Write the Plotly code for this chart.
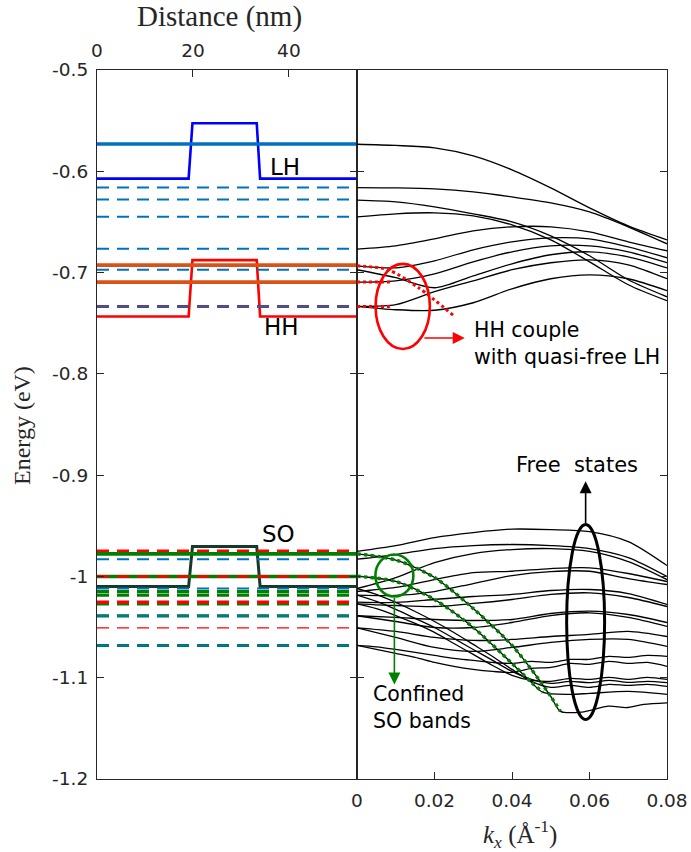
import plotly.graph_objects as go

# ---------------- left panel: band-edge profiles vs distance (nm) ----------------
Z_PROFILE = [0, 19.1, 19.9, 33.3, 34.0, 54.2]
LH_EDGE = [-0.6072, -0.6072, -0.5526, -0.5526, -0.6072, -0.6072]
HH_EDGE = [-0.7433, -0.7433, -0.6877, -0.6877, -0.7433, -0.7433]
SO_EDGE = [-1.0100, -1.0100, -0.9705, -0.9705, -1.0100, -1.0100]
Z_SPAN = [0, 54.2]

# subband energies at k = 0 (eV)
LH_SOLID = [-0.5730]
HH_SOLID = [-0.6926, -0.7094]
SO_SOLID = [-0.9777, -1.0000]
BLUE_DASHED = [-0.6161, -0.6279, -0.6450, -0.6766, -0.6973, -0.7335,
               -0.9830, -1.0119, -1.0389, -1.0682]
RED_DASHED = [-0.7335, -0.9751, -1.0254]
RED_DASHED_TOP = [-1.0000]
RED_DASHED_THIN = [-1.0507]
GREEN_DASHED = [-1.0149, -1.0185, -1.0270, -1.0389, -1.0682]

# ---------------- right panel: dispersion E(kx) ----------------
K_GRID = [0.00, 0.01, 0.02, 0.03, 0.04, 0.05, 0.06, 0.07, 0.08]
K_FINE = [0.000, 0.005, 0.010, 0.015, 0.020, 0.025, 0.030, 0.035, 0.040,
          0.045, 0.050, 0.055, 0.060, 0.065, 0.070, 0.075, 0.080]

UPPER_BANDS = [
    [-0.5733, -0.5745, -0.5769, -0.5848, -0.5986, -0.6164, -0.6361, -0.6539, -0.6677],
    [-0.6161, -0.6164, -0.6174, -0.6203, -0.6253, -0.6312, -0.6401, -0.6548, -0.6716],
    [-0.6285, -0.6302, -0.6351, -0.6420, -0.6499, -0.6637, -0.6834, -0.7071, -0.7239],
    [-0.6450, -0.6420, -0.6410, -0.6440, -0.6529, -0.6677, -0.6894, -0.7120, -0.7278],
    [-0.6768, -0.6736, -0.6667, -0.6588, -0.6548, -0.6548, -0.6598, -0.6696, -0.6785],
    [-0.6933, -0.6953, -0.6884, -0.6775, -0.6696, -0.6657, -0.6667, -0.6746, -0.6854],
    [-0.7094, -0.7081, -0.7012, -0.6894, -0.6795, -0.6736, -0.6736, -0.6795, -0.6903],
    [-0.6972, -0.7051, -0.7150, -0.7032, -0.6913, -0.6824, -0.6795, -0.6844, -0.6953],
    [-0.7334, -0.7317, -0.7189, -0.7081, -0.6972, -0.6903, -0.6874, -0.6923, -0.7061],
    [-0.7334, -0.7367, -0.7372, -0.7298, -0.7160, -0.7061, -0.7022, -0.7061, -0.7179],
]

LOWER_BANDS = [
    [-0.9752, -0.9695, -0.9616, -0.9567, -0.9533, -0.9538, -0.9557, -0.9656, -0.9893],
    [-0.9830, -0.9784, -0.9725, -0.9695, -0.9685, -0.9695, -0.9725, -0.9814, -1.0001],
    [-1.0119, -1.0011, -0.9863, -0.9774, -0.9735, -0.9725, -0.9752, -0.9853, -1.0031],
    [-1.0149, -1.0109, -1.0031, -0.9962, -0.9949, -0.9922, -0.9915, -0.9971, -1.0050],
    [-1.0185, -1.0188, -1.0149, -1.0070, -0.9991, -0.9952, -0.9949, -1.0021, -1.0080],
    [-1.0254, -1.0257, -1.0228, -1.0198, -1.0178, -1.0139, -1.0129, -1.0169, -1.0277],
    [-1.0270, -1.0287, -1.0297, -1.0267, -1.0228, -1.0178, -1.0162, -1.0208, -1.0297],
    [-1.0388, -1.0405, -1.0425, -1.0435, -1.0425, -1.0366, -1.0343, -1.0376, -1.0455],
    [-1.0388, -1.0445, -1.0504, -1.0504, -1.0455, -1.0386, -1.0359, -1.0405, -1.0494],
    [-1.0507, -1.0543, -1.0602, -1.0632, -1.0622, -1.0593, -1.0573, -1.0543, -1.0593],
    [-1.0507, -1.0602, -1.0701, -1.0740, -1.0701, -1.0652, -1.0622, -1.0622, -1.0691],
]

# deeper free states, sampled more finely to keep their ripples
LOWER_BANDS_FINE = [
    [-1.0681, -1.0696, -1.0721, -1.0750, -1.0780, -1.0810, -1.0829, -1.0849, -1.0859,
     -1.0839, -1.0849, -1.0819, -1.0819, -1.0790, -1.0800, -1.0780, -1.0790],
    [-1.0681, -1.0721, -1.0760, -1.0800, -1.0849, -1.0888, -1.0918, -1.0938, -1.0948,
     -1.0908, -1.0898, -1.0859, -1.0869, -1.0839, -1.0859, -1.0849, -1.0888],
    [-1.0270, -1.0317, -1.0386, -1.0464, -1.0553, -1.0662, -1.0770, -1.0879, -1.0977,
     -1.1026, -1.1036, -1.1007, -1.1017, -1.0997, -1.1017, -1.0997, -1.1017],
    [-1.0185, -1.0247, -1.0326, -1.0415, -1.0504, -1.0612, -1.0721, -1.0829, -1.0938,
     -1.1017, -1.1056, -1.1036, -1.1049, -1.1026, -1.1046, -1.1036, -1.1049],
    [-1.0119, -1.0178, -1.0257, -1.0346, -1.0445, -1.0553, -1.0671, -1.0790, -1.0918,
     -1.1036, -1.1095, -1.1076, -1.1095, -1.1066, -1.1076, -1.1066, -1.1086],
]

# confined SO bands (dotted part covers the first N points)
K_SO_UP = [0.0, 0.01, 0.02, 0.03, 0.04, 0.045, 0.05, 0.0525, 0.058, 0.065, 0.0695,
           0.074, 0.08]
E_SO_UP = [-0.9777, -0.9838, -1.0011, -1.0317, -1.0681, -1.0918, -1.1184, -1.1332,
           -1.1339, -1.1280, -1.1296, -1.1263, -1.1248]
N_SO_UP_DOT = 8
K_SO_LO = [0.0, 0.01, 0.02, 0.03, 0.04, 0.045, 0.048, 0.055, 0.06, 0.07, 0.08]
E_SO_LO = [-0.9998, -1.0050, -1.0228, -1.0504, -1.0859, -1.1046, -1.1145, -1.1164,
           -1.1155, -1.1135, -1.1164]
N_SO_LO_DOT = 7

# HH state coupling to the quasi-free LH continuum
K_HH_DOT = [0.0, 0.008, 0.016, 0.0252]
E_HH_DOT = [-0.6933, -0.6972, -0.7153, -0.7433]
K_HH_FLAT = [0.0, 0.0085]
E_HH_FLAT = [-0.7094, -0.7334]

Y_TICKS = [-1.2, -1.1, -1.0, -0.9, -0.8, -0.7, -0.6, -0.5]
Y_TICK_TEXT = ["-1.2", "-1.1", "-1", "-0.9", "-0.8", "-0.7", "-0.6", "-0.5"]
Z_TICKS = [0, 20, 40]
K_TICKS = [0, 0.02, 0.04, 0.06, 0.08]
K_TICK_TEXT = ["0", "0.02", "0.04", "0.06", "0.08"]

BLUE = "#0072BD"
ORANGE = "#D95319"
GREEN = "#008000"
RED = "#FF0000"
AXIS = "#262626"
DASH = "12px,8px"

fig = go.Figure()


def left_line(x, y, color, width, dash=None):
    fig.add_trace(go.Scatter(x=x, y=y, mode="lines", xaxis="x", yaxis="y",
                             line=dict(color=color, width=width, dash=dash),
                             hoverinfo="skip", showlegend=False))


def right_line(x, y, color, width, dash=None, shape="spline"):
    fig.add_trace(go.Scatter(x=x, y=y, mode="lines", xaxis="x2", yaxis="y2",
                             line=dict(color=color, width=width, dash=dash,
                                       shape=shape, smoothing=0.8),
                             hoverinfo="skip", showlegend=False))


# profiles
left_line(Z_PROFILE, LH_EDGE, "#0000FF", 2.6)
left_line(Z_PROFILE, HH_EDGE, RED, 2.6)
left_line(Z_PROFILE, SO_EDGE, "#163A2A", 3.0)

# levels
for e in GREEN_DASHED:
    left_line(Z_SPAN, [e, e], GREEN, 3.2, DASH)
for e in RED_DASHED:
    left_line(Z_SPAN, [e, e], RED, 3.2, DASH)
for e in RED_DASHED_THIN:
    left_line(Z_SPAN, [e, e], RED, 1.3, DASH)
for e in BLUE_DASHED:
    left_line(Z_SPAN, [e, e], BLUE, 2.0, DASH)
for e in LH_SOLID:
    left_line(Z_SPAN, [e, e], BLUE, 3.6)
for e in HH_SOLID:
    left_line(Z_SPAN, [e, e], ORANGE, 3.6)
for e in SO_SOLID:
    left_line(Z_SPAN, [e, e], GREEN, 3.6)
for e in RED_DASHED_TOP:
    left_line(Z_SPAN, [e, e], RED, 2.6, DASH)

# dispersion
for band in UPPER_BANDS + LOWER_BANDS:
    right_line(K_GRID, band, "black", 1.3)
for band in LOWER_BANDS_FINE:
    right_line(K_FINE, band, "black", 1.3)
right_line(K_SO_UP, E_SO_UP, "black", 1.3)
right_line(K_SO_LO, E_SO_LO, "black", 1.3)
right_line(K_SO_UP[:N_SO_UP_DOT], E_SO_UP[:N_SO_UP_DOT], GREEN, 3.4, "dot")
right_line(K_SO_LO[:N_SO_LO_DOT], E_SO_LO[:N_SO_LO_DOT], GREEN, 3.4, "dot")
right_line(K_HH_DOT, E_HH_DOT, RED, 3.0, "dot")
for e in E_HH_FLAT:
    right_line(K_HH_FLAT, [e, e], RED, 3.0, "dot", "linear")

SANS = "DejaVu Sans"
SERIF = "Liberation Serif"

shapes = [
    dict(type="circle", xref="x2", yref="y2", x0=0.0048, x1=0.0188,
         y0=-0.7754, y1=-0.6914, line=dict(color=RED, width=2.6)),
    dict(type="circle", xref="x2", yref="y2", x0=0.00475, x1=0.01455,
         y0=-1.0198, y1=-0.9784, line=dict(color=GREEN, width=2.6)),
    dict(type="circle", xref="x2", yref="y2", x0=0.0541, x1=0.0639,
         y0=-1.1412, y1=-0.9488, line=dict(color="black", width=3)),
]


def arrow(x0, y0, x1, y1, color):
    return dict(x=x1, y=y1, ax=x0, ay=y0, xref="x2", yref="y2", axref="x2",
                ayref="y2", showarrow=True, arrowhead=2, arrowsize=1.5,
                arrowwidth=1.6, arrowcolor=color, text="")


def label(x, y, text, size, xref="x2", yref="y2", xanchor="center", family=SANS,
          color="black", angle=0):
    return dict(x=x, y=y, xref=xref, yref=yref, xanchor=xanchor, yanchor="middle",
                align="left", showarrow=False, text=text, textangle=angle,
                font=dict(family=family, size=size, color=color))


annotations = [
    arrow(0.0170, -0.7646, 0.0278, -0.7646, RED),
    arrow(0.00965, -1.0198, 0.00965, -1.1066, GREEN),
    arrow(0.0590, -0.9488, 0.0590, -0.9061, "black"),
    label(0.0296, -0.7702, "HH couple<br>with quasi-free LH", 20.5, xanchor="left"),
    label(0.0568, -0.8904, "Free\u00a0 states", 21),
    label(0.0036, -1.1298, "Confined<br>SO bands", 20.5, xanchor="left"),
    label(39.2, -0.5957, "LH", 23, "x", "y"),
    label(38.5, -0.7534, "HH", 23, "x", "y"),
    label(37.8, -0.9577, "SO", 23, "x", "y"),
    # axis titles
    label(0.2149, 1.0748, "Distance (nm)", 29, "paper", "paper", family=SERIF, color=AXIS),
    label(-0.1316, 0.4993, "Energy (eV)", 24, "paper", "paper", family=SERIF, color=AXIS,
          angle=-90),
    label(0.742, -0.0776, "<i>k<sub>x</sub></i> (Å<sup>-1</sup>)", 25, "paper", "paper",
          family=SERIF, color=AXIS),
]

tick_font = dict(family=SANS, size=18.5, color=AXIS)
split = (357 - 97) / 570
common = dict(ticks="inside", ticklen=7, tickcolor=AXIS, showline=True, linecolor=AXIS,
              linewidth=1.2, showgrid=False, zeroline=False, automargin=False,
              tickfont=tick_font)

fig.update_layout(
    width=691, height=852,
    margin=dict(l=97, r=24, t=70, b=73, autoexpand=False),
    paper_bgcolor="white", plot_bgcolor="white",
    showlegend=False,
    xaxis=dict(domain=[0, split], range=[0, 54.2], side="top", anchor="y",
               tickvals=Z_TICKS, ticktext=[str(v) for v in Z_TICKS], mirror=True,
               ticklabelstandoff=5, **common),
    yaxis=dict(domain=[0, 1], range=[-1.2, -0.5], anchor="x", tickvals=Y_TICKS,
               ticktext=Y_TICK_TEXT, mirror="ticks", ticklabelstandoff=4, **common),
    xaxis2=dict(domain=[split, 1], range=[0, 0.08], anchor="y2", side="bottom",
                tickvals=K_TICKS, ticktext=K_TICK_TEXT, mirror=True,
                ticklabelstandoff=5, **common),
    yaxis2=dict(domain=[0, 1], range=[-1.2, -0.5], anchor="x2", tickvals=Y_TICKS,
                showticklabels=False, mirror="ticks", **common),
    shapes=shapes,
    annotations=annotations,
)

fig.write_html("out.html")
